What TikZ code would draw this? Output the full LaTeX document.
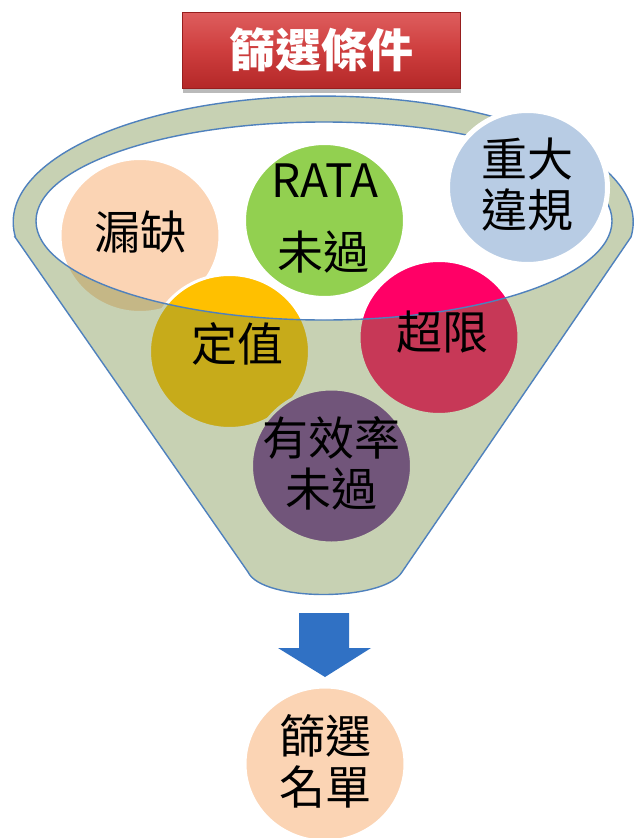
\documentclass[tikz,border=0pt]{standalone}
\usepackage{fontspec}
\newfontfamily\cjk{Noto Sans CJK TC}
\usetikzlibrary{shadows,shapes.geometric}
\definecolor{peach}{RGB}{251,212,180}
\definecolor{ratagreen}{RGB}{146,208,80}
\definecolor{lightblue}{RGB}{184,204,228}
\definecolor{goldy}{RGB}{255,192,0}
\definecolor{hotpink}{RGB}{255,0,102}
\definecolor{purp}{RGB}{112,48,160}
\definecolor{olive}{RGB}{116,141,66}
\definecolor{edgeblue}{RGB}{79,129,189}
\definecolor{arrowblue}{RGB}{48,113,196}
\definecolor{titletop}{RGB}{222,94,94}
\definecolor{titlemid}{RGB}{206,62,62}
\definecolor{titlebot}{RGB}{180,40,40}
\definecolor{titleedge}{RGB}{150,30,30}
\newcommand{\myfunnel}{(15,237) -- (248,572) .. controls (262,602) and (384,602) .. (402,572) -- (631,237) arc[start angle=6.8, end angle=-186.8, x radius=310, y radius=126] -- cycle}
\newcommand{\myopening}{(324,221) ellipse[x radius=288, y radius=99]}
\tikzset{
  ball/.style={ellipse, minimum width=160pt, minimum height=154pt, inner sep=0pt, draw=white, line width=3pt},
  txt/.style={font=\cjk\fontsize{46}{51}\selectfont, align=center, inner sep=0pt, text=black},
  titlebox/.style={rectangle, minimum width=278pt, minimum height=76pt, inner sep=0pt,
    top color=titletop, bottom color=titlebot, middle color=titlemid, draw=titleedge, line width=0.8pt,
    drop shadow={shadow xshift=1pt, shadow yshift=-5pt, opacity=0.45, fill=black!60},
    font=\cjk\bfseries\fontsize{46}{51}\selectfont, text=white},
  rim/.style={draw=edgeblue, line width=1.4pt}
}
\begin{document}
\begin{tikzpicture}[x=1pt, y=-1pt]
\useasboundingbox (0,0) rectangle (634,838);
\fill[white] (0,0) rectangle (634,838);
% title
\node[titlebox] (title) at (321,50) {篩選條件};
% circles inside the funnel
\node[ball, fill=peach] (louque) at (140,235.5) {};
\node[ball, fill=ratagreen] (rata) at (324.5,220.5) {};
\node[ball, fill=goldy] (dingzhi) at (229.5,351.5) {};
\node[ball, fill=hotpink] (chaoxian) at (439,337.5) {};
\node[ball, fill=purp] (xiaolv) at (331.5,466) {};
% funnel overlay
\fill[olive, fill opacity=0.4, even odd rule] \myfunnel \myopening;
\draw[rim] \myfunnel;
\draw[rim] \myopening;
% top-right circle
\node[ball, fill=lightblue, line width=5pt] (weigui) at (527.5,187.5) {};
% texts
\node[txt] (t-louque) at (140,232) {漏缺};
\node[txt] (t-rata1) at (325,180.5) {RATA};
\node[txt] (t-rata2) at (323,252) {未過};
\node[txt] (t-weigui) at (527.5,185) {重大\\違規};
\node[txt] (t-dingzhi) at (237,344) {定值};
\node[txt] (t-chaoxian) at (442,332) {超限};
\node[txt] (t-xiaolv) at (331,463.5) {有效率\\未過};
% arrow
\fill[arrowblue] (299,613) -- (349,613) -- (349,648) -- (371,648) -- (325,677) -- (278,648) -- (299,648) -- cycle;
% result
\node[ball, fill=peach] (mingdan) at (325,764) {};
\node[txt] (t-mingdan) at (325,761) {篩選\\名單};
\end{tikzpicture}
\end{document}
